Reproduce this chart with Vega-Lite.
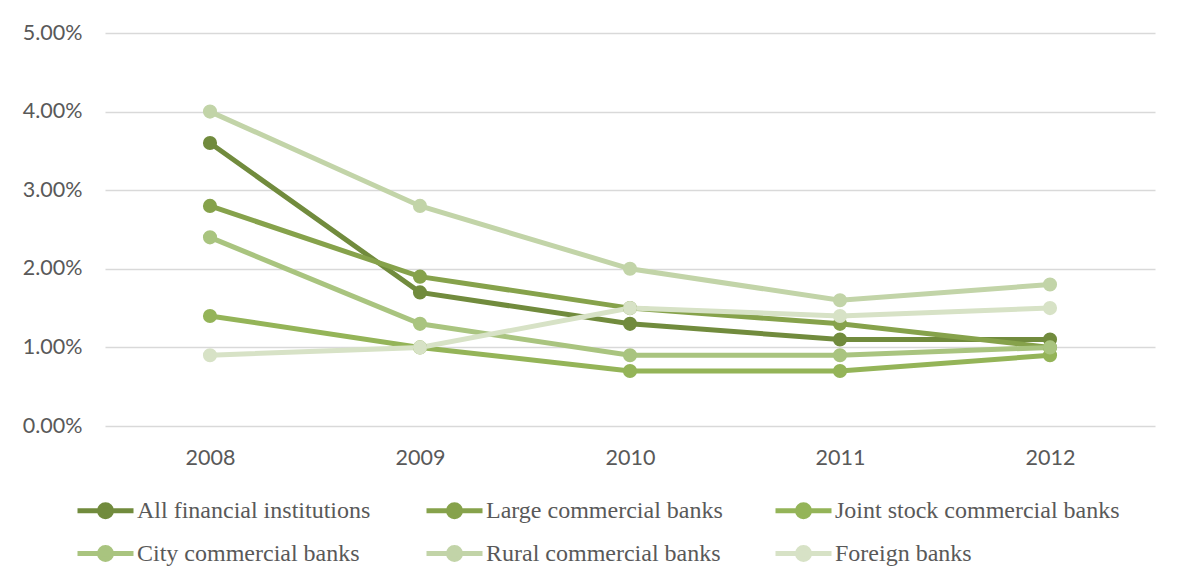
{
  "$schema": "https://vega.github.io/schema/vega-lite/v6.json",
  "width": 1050,
  "height": 393,
  "autosize": {"type": "none"},
  "padding": {"left": 105, "top": 33, "right": 25, "bottom": 155},
  "background": "white",
  "config": {"view": {"stroke": null}},
  "data": {"values": [
    {"year": "2008", "type": "All financial institutions", "rate": 0.036},
    {"year": "2009", "type": "All financial institutions", "rate": 0.017},
    {"year": "2010", "type": "All financial institutions", "rate": 0.013},
    {"year": "2011", "type": "All financial institutions", "rate": 0.011},
    {"year": "2012", "type": "All financial institutions", "rate": 0.011},
    {"year": "2008", "type": "Large commercial banks", "rate": 0.028},
    {"year": "2009", "type": "Large commercial banks", "rate": 0.019},
    {"year": "2010", "type": "Large commercial banks", "rate": 0.015},
    {"year": "2011", "type": "Large commercial banks", "rate": 0.013},
    {"year": "2012", "type": "Large commercial banks", "rate": 0.010},
    {"year": "2008", "type": "Joint stock commercial banks", "rate": 0.014},
    {"year": "2009", "type": "Joint stock commercial banks", "rate": 0.010},
    {"year": "2010", "type": "Joint stock commercial banks", "rate": 0.007},
    {"year": "2011", "type": "Joint stock commercial banks", "rate": 0.007},
    {"year": "2012", "type": "Joint stock commercial banks", "rate": 0.009},
    {"year": "2008", "type": "City commercial banks", "rate": 0.024},
    {"year": "2009", "type": "City commercial banks", "rate": 0.013},
    {"year": "2010", "type": "City commercial banks", "rate": 0.009},
    {"year": "2011", "type": "City commercial banks", "rate": 0.009},
    {"year": "2012", "type": "City commercial banks", "rate": 0.010},
    {"year": "2008", "type": "Rural commercial banks", "rate": 0.040},
    {"year": "2009", "type": "Rural commercial banks", "rate": 0.028},
    {"year": "2010", "type": "Rural commercial banks", "rate": 0.020},
    {"year": "2011", "type": "Rural commercial banks", "rate": 0.016},
    {"year": "2012", "type": "Rural commercial banks", "rate": 0.018},
    {"year": "2008", "type": "Foreign banks", "rate": 0.009},
    {"year": "2009", "type": "Foreign banks", "rate": 0.010},
    {"year": "2010", "type": "Foreign banks", "rate": 0.015},
    {"year": "2011", "type": "Foreign banks", "rate": 0.014},
    {"year": "2012", "type": "Foreign banks", "rate": 0.015}
  ]},
  "mark": {"type": "line", "strokeWidth": 5, "point": {"filled": true, "size": 200, "opacity": 1}},
  "encoding": {
    "x": {
      "field": "year", "type": "ordinal",
      "scale": {"type": "point", "padding": 0.5},
      "axis": {"title": null, "labelAngle": 0, "domain": false, "ticks": false, "labelPadding": 21,
               "labelFont": "Lato", "labelFontSize": 21.5, "labelColor": "#595959"}
    },
    "y": {
      "field": "rate", "type": "quantitative",
      "scale": {"domain": [0, 0.05], "nice": false},
      "axis": {"title": null, "format": ".2%", "values": [0, 0.01, 0.02, 0.03, 0.04, 0.05],
               "domain": false, "ticks": false, "labelPadding": 23, "gridColor": "#d9d9d9", "gridWidth": 1.5,
               "labelFont": "Lato", "labelFontSize": 21.5, "labelColor": "#595959"}
    },
    "color": {
      "field": "type", "type": "nominal",
      "scale": {
        "domain": ["All financial institutions", "Large commercial banks", "Joint stock commercial banks", "City commercial banks", "Rural commercial banks", "Foreign banks"],
        "range": ["#718B3D", "#86A24B", "#94B458", "#A9C47F", "#C2D4A8", "#D7E2C6"]
      },
      "legend": {
        "title": null, "orient": "none", "legendX": -12, "legendY": 465,
        "direction": "horizontal", "columns": 3, "gridAlign": "all", "columnPadding": -6, "rowPadding": 10,
        "symbolType": "M-2.8,0H2.8M-0.6,0A0.6,0.6,0,1,1,0.6,0A0.6,0.6,0,1,1,-0.6,0Z",
        "symbolSize": 400, "symbolStrokeWidth": 5, "labelOffset": 19,
        "labelFont": "Liberation Serif", "labelFontSize": 24, "labelColor": "#595959", "labelLimit": 400
      }
    },
    "order": {"field": "year"}
  }
}
